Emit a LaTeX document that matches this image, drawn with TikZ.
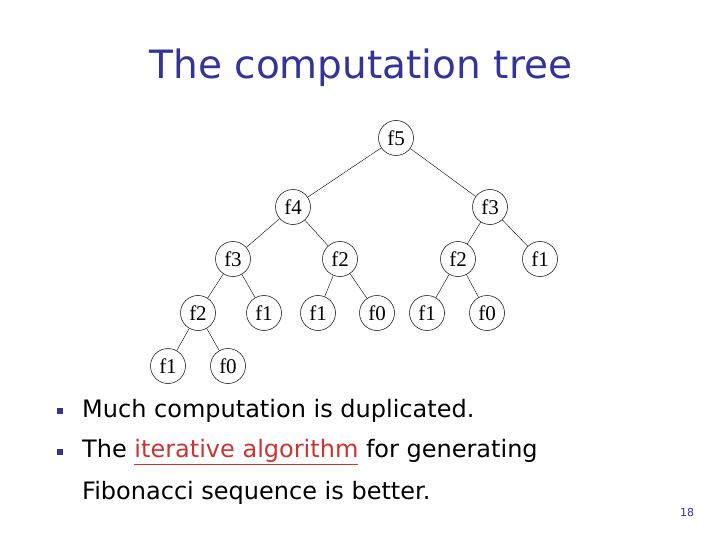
\documentclass[tikz,border=0pt]{standalone}
\usepackage{fontspec}
\setmainfont{DejaVu Sans}
\newfontfamily\treefont{Liberation Serif}
\definecolor{titleblue}{HTML}{333399}
\definecolor{linkred}{HTML}{CC3333}
\begin{document}
\begin{tikzpicture}[x=1pt,y=-1pt,
  tn/.style={circle,draw,line width=0.5pt,minimum size=35pt,inner sep=0pt,font=\treefont\fontsize{21}{21}\selectfont},
  body/.style={anchor=west,inner sep=0pt,font=\fontsize{24}{24}\selectfont},
  bul/.style={fill=titleblue,minimum size=6pt,inner sep=0pt}]
\fill[white] (0,0) rectangle (720,540);
\node[font=\fontsize{39}{39}\selectfont,text=titleblue] (title) at (361,68) {The computation tree};
\node[tn] (a) at (396,138) {f5};
\node[tn] (b) at (293,207) {f4};
\node[tn] (c) at (490,207) {f3};
\node[tn] (d) at (233,259) {f3};
\node[tn] (e) at (340,259) {f2};
\node[tn] (f) at (458,259) {f2};
\node[tn] (g) at (540,259) {f1};
\node[tn] (h) at (198,313) {f2};
\node[tn] (i) at (264,313) {f1};
\node[tn] (j) at (318,313) {f1};
\node[tn] (k) at (377,313) {f0};
\node[tn] (l) at (427,313) {f1};
\node[tn] (m) at (487,313) {f0};
\node[tn] (n) at (168,366) {f1};
\node[tn] (o) at (228,366) {f0};
\draw (a)--(b) (a)--(c) (b)--(d) (b)--(e) (c)--(f) (c)--(g)
      (d)--(h) (d)--(i) (e)--(j) (e)--(k) (f)--(l) (f)--(m) (h)--(n) (h)--(o);
\node[bul] (b1) at (60,411) {};
\node[bul] (b2) at (60,452) {};
\node[body] (t1) at (82,411) {Much computation is duplicated.};
\node[body] (t2) at (82,452) {The \textcolor{linkred}{\underline{iterative algorithm}} for generating};
\node[body] (t3) at (82,493) {Fibonacci sequence is better.};
\node[text=titleblue,font=\fontsize{11}{11}\selectfont] (pg) at (687,512) {18};
\end{tikzpicture}
\end{document}
